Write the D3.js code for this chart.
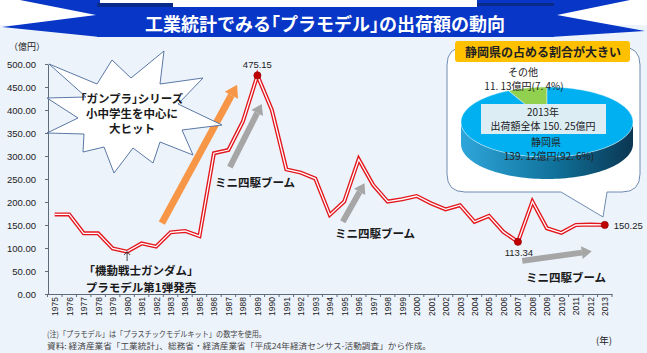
<!DOCTYPE html>
<html>
<head>
<meta charset="utf-8">
<script src="https://cdn.jsdelivr.net/npm/d3@7"></script>
<style>
body { margin: 0; background: #fff; }
svg { display: block; font-family: "Noto Sans CJK JP", "Liberation Sans", sans-serif; }
.halt { font-feature-settings: "halt"; }
</style>
</head>
<body>
<div id="chart"></div>
<script>
// data (億円)
var years = ["1975","1976","1977","1978","1979","1980","1981","1982","1983","1984",
             "1985","1986","1987","1988","1989","1990","1991","1992","1993","1994",
             "1995","1996","1997","1998","1999","2000","2001","2002","2003","2004",
             "2005","2006","2007","2008","2009","2010","2011","2012","2013"];
var values = [173, 173, 132, 132, 99, 92, 110, 103, 134, 137,
              126, 306, 313, 375, 475.15, 400, 271, 264, 251, 172,
              201, 293, 237, 201, 206, 213, 197, 184, 193, 157,
              170, 135, 113.34, 201, 143, 133, 150, 151, 150.25];
var yTicks = [0, 50, 100, 150, 200, 250, 300, 350, 400, 450, 500];
var markYears = ["1989", "2007", "2013"];

// 2013 breakdown
var pieNames = ["その他", "静岡県"];
var pieValues = [11.13, 139.12];
var pieShares = [7.4, 92.6];
var pieTotal = 150.25;

var W = 647, H = 353;

var svg = d3.select("#chart").append("svg")
            .attr("width", W).attr("height", H);

svg.append("rect").attr("width", W).attr("height", H).attr("fill", "#fff");
svg.append("rect").attr("y", 25).attr("width", W).attr("height", H - 25).attr("fill", "#edf3fb");

//----- title ribbon
var blue = "#0836c6";
svg.append("polygon").attr("fill", blue)
   .attr("points", "20,0 100,0 100,37 2,27 96,15");
svg.append("polygon").attr("fill", blue)
   .attr("points", "630,0 550,0 550,37 645,31 557,15");
svg.append("rect").attr("x", 477).attr("y", 0).attr("width", 77).attr("height", 8).attr("fill", blue);
svg.append("rect").attr("x", 97).attr("y", 3).attr("width", 76).attr("height", 4).attr("fill", "#0a2a8a");
svg.append("rect").attr("x", 477).attr("y", 3).attr("width", 77).attr("height", 3).attr("fill", "#0a2a8a");
svg.append("rect").attr("x", 97).attr("y", 7).attr("width", 457).attr("height", 30).attr("fill", blue);
svg.append("text").attr("class", "halt")
   .attr("x", 325).attr("y", 31)
   .attr("text-anchor", "middle")
   .attr("fill", "#fff").attr("font-size", 18).attr("font-weight", "bold")
   .text("工業統計でみる「プラモデル」の出荷額の動向");

//----- scales
var x = d3.scalePoint().domain(years).range([47.5, 612]).padding(0.5);
var y = d3.scaleLinear().domain([0, 500]).range([294, 64]);
var xl = d3.scaleLinear().domain([1975, 2013]).range([x("1975"), x("2013")]);
var step = x.step();

var data = years.map(function(d, i) { return { year: d, value: values[i] }; });

//----- axes
var yAxis = svg.append("g")
   .attr("transform", "translate(48,0)")
   .call(d3.axisLeft(y).tickValues(yTicks).tickSize(3).tickSizeOuter(0).tickPadding(9)
           .tickFormat(d3.format(".2f")));
yAxis.select(".domain").attr("stroke", "#5f6b7a");
yAxis.selectAll(".tick line").attr("stroke", "#5f6b7a");
yAxis.selectAll("text").attr("font-family", "Liberation Sans, Arial, sans-serif")
     .attr("font-size", 9.5).attr("fill", "#222");

var xAxis = svg.append("g")
   .attr("transform", "translate(0,294)")
   .call(d3.axisBottom(x).tickSize(0).tickSizeOuter(0));
xAxis.select(".domain").attr("stroke", "#5f6b7a");
xAxis.selectAll("text")
     .attr("transform", "rotate(-90)")
     .attr("x", -3).attr("y", 0).attr("dy", "0.35em")
     .style("text-anchor", "end")
     .attr("font-family", "Liberation Sans, Arial, sans-serif")
     .attr("font-size", 8.5).attr("fill", "#222");
xAxis.selectAll(".edge").data(years.concat(["end"])).enter().append("line")
     .attr("class", "edge")
     .attr("x1", function(d, i) { return x("1975") - step / 2 + i * step; })
     .attr("x2", function(d, i) { return x("1975") - step / 2 + i * step; })
     .attr("y1", 0).attr("y2", 3)
     .attr("stroke", "#5f6b7a");

svg.append("text").attr("x", 27).attr("y", 50).attr("text-anchor", "middle")
   .attr("font-size", 9).attr("fill", "#222").text("（億円）");

//----- the line (double red / white)
var line = d3.line().x(function(d) { return x(d.year); }).y(function(d) { return y(d.value); });
svg.append("path").datum(data).attr("d", line)
   .attr("fill", "none").attr("stroke", "#e3161c").attr("stroke-width", 4);
svg.append("path").datum(data).attr("d", line)
   .attr("fill", "none").attr("stroke", "#fff").attr("stroke-width", 1.3);

var marks = data.filter(function(d) { return markYears.indexOf(d.year) >= 0; });
svg.selectAll(".mark").data(marks).enter().append("circle")
   .attr("class", "mark")
   .attr("cx", function(d) { return x(d.year); })
   .attr("cy", function(d) { return y(d.value); })
   .attr("r", 3.6).attr("fill", "#c00000").attr("stroke", "#8a0000").attr("stroke-width", 0.6);

function valLabel(d, dx, dy, anchor) {
  svg.append("text")
     .attr("x", x(d.year) + dx).attr("y", y(d.value) + dy)
     .attr("text-anchor", anchor)
     .attr("font-family", "Liberation Sans, Arial, sans-serif")
     .attr("font-size", 9.5).attr("fill", "#222")
     .text(d3.format(".2f")(d.value));
}
valLabel(marks[0], 0, -7, "middle");
valLabel(marks[1], 1, 14, "middle");
valLabel(marks[2], 9, 4, "start");

//----- arrows (positions in year / value units)
function arrow(yr0, v0, yr1, v1, color, w, hl, hw) {
  var x0 = xl(yr0), y0 = y(v0), x1 = xl(yr1), y1 = y(v1);
  var dx = x1 - x0, dy = y1 - y0, len = Math.sqrt(dx * dx + dy * dy);
  var ux = dx / len, uy = dy / len, px = -uy, py = ux;
  var bx = x1 - ux * hl, by = y1 - uy * hl;
  svg.append("line").attr("x1", x0).attr("y1", y0).attr("x2", bx).attr("y2", by)
     .attr("stroke", color).attr("stroke-width", w);
  svg.append("polygon").attr("fill", color)
     .attr("points", [[x1, y1], [bx + px * hw / 2, by + py * hw / 2], [bx - px * hw / 2, by - py * hw / 2]].join(" "));
}
arrow(1982.4, 154, 1987.6, 455, "#f79646", 7, 12, 15);
arrow(1987.1, 276, 1989.3, 413, "#a6a6a6", 6, 10, 13);
arrow(1994.9, 157, 1996.4, 241, "#a6a6a6", 6, 10, 13);
arrow(2007.3, 72, 2012.1, 93, "#a6a6a6", 6, 10, 13);

function boom(cx, by) {
  svg.append("text").attr("x", cx).attr("y", by).attr("text-anchor", "middle")
     .attr("font-size", 11.5).attr("font-weight", "bold").attr("fill", "#1a1a1a")
     .text("ミニ四駆ブーム");
}
boom(255, 187);
boom(375, 238);
boom(566, 282);

// small arrow to 1980
var ax = x("1980");
svg.append("line").attr("x1", ax).attr("x2", ax).attr("y1", 261).attr("y2", 252)
   .attr("stroke", "#222").attr("stroke-width", 0.8);
svg.append("polyline").attr("points", [[ax - 3, 255], [ax, 251.5], [ax + 3, 255]].join(" "))
   .attr("fill", "none").attr("stroke", "#222").attr("stroke-width", 0.8);
svg.append("text").attr("class", "halt").attr("x", 141).attr("y", 275).attr("text-anchor", "middle")
   .attr("font-size", 11.5).attr("font-weight", "bold").attr("fill", "#1a1a1a")
   .text("「機動戦士ガンダム」");
svg.append("text").attr("x", 141).attr("y", 292).attr("text-anchor", "middle")
   .attr("font-size", 11.5).attr("font-weight", "bold").attr("fill", "#1a1a1a")
   .text("プラモデル第1弾発売");

//----- burst callout
var star = [[49,64],[97,84],[112,60],[131,78],[164,51],[160,84],[203,78],[178,104],
            [222,125],[182,130],[193,155],[160,142],[153,163],[133,148],[114,173],
            [104,147],[83,152],[84,134],[47,133],[78,118],[47,98],[86,97]];
svg.append("polygon").attr("points", star.join(" "))
   .attr("fill", "#fff").attr("stroke", "#4a6a9c").attr("stroke-width", 0.9);
["「ガンプラ」シリーズ", "小中学生を中心に", "大ヒット"].forEach(function(t, i) {
  svg.append("text").attr("class", "halt").attr("x", 132).attr("y", 103 + i * 15).attr("text-anchor", "middle")
     .attr("font-size", 11.5).attr("font-weight", "bold").attr("fill", "#1a1a1a").text(t);
});

//----- pie callout
svg.append("path")
   .attr("d", "M465,47 H622 Q640,47 640,65 V174 Q640,192 622,192 H607 L603,217 L561,192 H465 Q447,192 447,174 V65 Q447,47 465,47 Z")
   .attr("fill", "#fff").attr("stroke", "#6f8cb2").attr("stroke-width", 1);
svg.append("rect").attr("x", 455).attr("y", 41).attr("width", 175).attr("height", 21).attr("rx", 3)
   .attr("fill", "#ffc000");
svg.append("text").attr("x", 543).attr("y", 57).attr("text-anchor", "middle")
   .attr("font-size", 12).attr("font-weight", "bold").attr("fill", "#222")
   .text("静岡県の占める割合が大きい");

var pcx = 547, pcy = 122, prx = 86, pry = 35, pdepth = 22;
function ept(a, dy) { return [pcx + prx * Math.sin(a), pcy - pry * Math.cos(a) + dy]; }
function arcPts(a0, a1, dy) {
  var n = Math.max(2, Math.ceil(Math.abs(a1 - a0) / 0.04));
  return d3.range(n + 1).map(function(i) { return ept(a0 + (a1 - a0) * i / n, dy); });
}
var defs = svg.append("defs");
var grad = defs.append("linearGradient").attr("id", "side")
   .attr("x1", "0%").attr("x2", "100%").attr("y1", "0%").attr("y2", "0%");
grad.append("stop").attr("offset", "0%").attr("stop-color", "#2ea6da");
grad.append("stop").attr("offset", "55%").attr("stop-color", "#10719a");
grad.append("stop").attr("offset", "100%").attr("stop-color", "#0b3652");

var ringPath = d3.line().curve(d3.curveLinearClosed);
svg.append("path")
   .attr("d", ringPath(arcPts(Math.PI / 2, 3 * Math.PI / 2, 0).concat(arcPts(3 * Math.PI / 2, Math.PI / 2, pdepth))))
   .attr("fill", "url(#side)");

var s0 = -2 * Math.PI * pieValues[0] / pieTotal;
var pie = d3.pie().sort(null).startAngle(s0).endAngle(s0 + 2 * Math.PI);
var pieColors = ["#92d050", "#00b0f0"];
svg.selectAll(".slice").data(pie(pieValues)).enter().append("path")
   .attr("class", "slice")
   .attr("d", function(d) { return ringPath([[pcx, pcy]].concat(arcPts(d.startAngle, d.endAngle, 0))); })
   .attr("fill", function(d, i) { return pieColors[i]; })
   .attr("stroke", "#e8f6fc").attr("stroke-width", 0.5);

svg.append("rect").attr("x", 481).attr("y", 104).attr("width", 125).attr("height", 30)
   .attr("fill", "#dcedf4");
var fmt = function(v) { return d3.format(".2f")(v).replace(".", ". "); };
var fmt1 = function(v) { return d3.format(".1f")(v).replace(".", ". "); };
function ptxt(t, cx, by) {
  svg.append("text").attr("x", cx).attr("y", by).attr("text-anchor", "middle")
     .attr("font-size", 10).attr("fill", "#222").text(t);
}
ptxt("2013年", 543, 116);
ptxt("出荷額全体 " + fmt(pieTotal) + "億円", 543, 130);
ptxt(pieNames[0], 523, 76);
ptxt(fmt(pieValues[0]) + "億円(" + fmt1(pieShares[0]) + "%)", 524, 90);
ptxt(pieNames[1], 546, 146);
ptxt(fmt(pieValues[1]) + "億円(" + fmt1(pieShares[1]) + "%)", 549, 160);

//----- notes
svg.append("text").attr("x", 47).attr("y", 337).attr("font-size", 8).attr("fill", "#444")
   .attr("textLength", 219).attr("lengthAdjust", "spacingAndGlyphs")
   .text("(注)「プラモデル」は「プラスチックモデルキット」の数字を使用。");
svg.append("text").attr("x", 47).attr("y", 349).attr("font-size", 8).attr("fill", "#444")
   .attr("textLength", 384).attr("lengthAdjust", "spacingAndGlyphs")
   .text("資料: 経済産業省「工業統計」、総務省・経済産業省「平成24年経済センサス-活動調査」から作成。");
svg.append("text").attr("x", 604).attr("y", 344).attr("text-anchor", "middle")
   .attr("font-size", 9.5).attr("fill", "#222").text("(年)");
</script>
</body>
</html>
